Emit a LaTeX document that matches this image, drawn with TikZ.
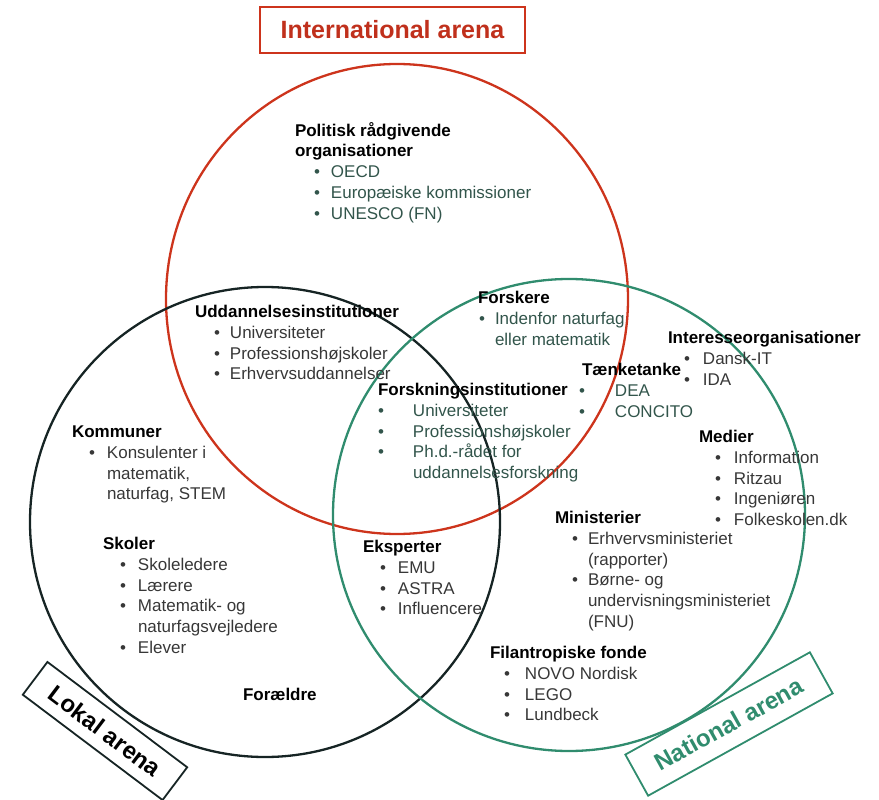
\documentclass[tikz,border=0pt]{standalone}
\usepackage{fontspec}
\setmainfont{Liberation Sans}
\definecolor{intred}{RGB}{205,52,28}
\definecolor{titlered}{RGB}{192,48,28}
\definecolor{natgreen}{RGB}{48,140,110}
\definecolor{lokblack}{RGB}{22,36,36}
\definecolor{itemgray}{RGB}{55,55,55}
\definecolor{itemteal}{RGB}{50,85,75}
\newcommand{\hd}[1]{\multicolumn{2}{@{}l@{}}{\color{black}\bfseries #1}}
\newcommand{\bu}[1]{\makebox[#1][l]{\textbullet}}
\tikzset{
  arena/.style={line width=2.3pt},
  blk/.style={anchor=base west, inner sep=0pt, outer sep=0pt, font=\fontsize{17}{20.8}\selectfont, text=itemgray},
  tealblk/.style={blk, text=itemteal},
  tagbox/.style={draw, line width=1.8pt, inner sep=0pt, font=\fontsize{24}{28}\selectfont\bfseries}
}
\begin{document}
\begin{tikzpicture}[x=1pt,y=-1pt]
\useasboundingbox (0,0) rectangle (879,800);
% circles
\draw[arena, intred] (397,299) ellipse[x radius=231pt, y radius=235pt];
\draw[arena, lokblack] (265,522) circle[radius=235pt];
\draw[arena, natgreen] (569,515) circle[radius=236pt];
% arena labels
\node[tagbox, draw=intred, text=titlered, minimum width=265pt, minimum height=46pt, font=\fontsize{25}{29}\selectfont\bfseries] (intl) at (392.5,30) {International arena};
\node[tagbox, draw=lokblack, text=black, minimum width=175pt, minimum height=41pt, rotate=-37] (lokal) at (105,731) {Lokal arena};
\node[tagbox, draw=natgreen, text=natgreen, minimum width=211pt, minimum height=47pt, rotate=29] (national) at (729,724) {National arena};
% text blocks
\node[tealblk] (pol) at (295,136) {\begin{tabular}[t]{@{\hspace{19pt}}l@{}l@{}}
\hd{Politisk rådgivende}\\
\hd{organisationer}\\
\bu{17pt} & OECD\\
\bu{17pt} & Europæiske kommissioner\\
\bu{17pt} & UNESCO (FN)
\end{tabular}};
\node[blk] (udd) at (195,317.5) {\begin{tabular}[t]{@{\hspace{19pt}}l@{}l@{}}
\hd{Uddannelsesinstitutioner}\\
\bu{16pt} & Universiteter\\
\bu{16pt} & Professionshøjskoler\\
\bu{16pt} & Erhvervsuddannelser
\end{tabular}};
\node[tealblk] (forskere) at (478,303.5) {\begin{tabular}[t]{@{\hspace{1pt}}l@{}l@{}}
\hd{Forskere}\\
\bu{16pt} & Indenfor naturfag\\
 & eller matematik
\end{tabular}};
\node[tealblk] (forskinst) at (378,395.5) {\begin{tabular}[t]{@{\hspace{0pt}}l@{}l@{}}
\hd{Forskningsinstitutioner}\\
\bu{35pt} & Universiteter\\
\bu{35pt} & Professionshøjskoler\\
\bu{35pt} & Ph.d.-rådet for\\
 & uddannelsesforskning
\end{tabular}};
\node[tealblk] (taenk) at (582,375.5) {\begin{tabular}[t]{@{\hspace{-3pt}}l@{}l@{}}
\hd{Tænketanke}\\
\bu{36pt} & DEA\\
\bu{36pt} & CONCITO
\end{tabular}};
\node[blk] (interesse) at (668,343.5) {\begin{tabular}[t]{@{\hspace{16pt}}l@{}l@{}}
\hd{Interesseorganisationer}\\
\bu{19pt} & Dansk-IT\\
\bu{19pt} & IDA
\end{tabular}};
\node[blk] (medier) at (699,442.5) {\begin{tabular}[t]{@{\hspace{16pt}}l@{}l@{}}
\hd{Medier}\\
\bu{19pt} & Information\\
\bu{19pt} & Ritzau\\
\bu{19pt} & Ingeniøren\\
\bu{19pt} & Folkeskolen.dk
\end{tabular}};
\node[blk] (kommuner) at (72,437.5) {\begin{tabular}[t]{@{\hspace{17pt}}l@{}l@{}}
\hd{Kommuner}\\
\bu{18pt} & Konsulenter i\\
 & matematik,\\
 & naturfag, STEM
\end{tabular}};
\node[blk] (skoler) at (103,549.5) {\begin{tabular}[t]{@{\hspace{17pt}}l@{}l@{}}
\hd{Skoler}\\
\bu{18pt} & Skoleledere\\
\bu{18pt} & Lærere\\
\bu{18pt} & Matematik- og\\
 & naturfagsvejledere\\
\bu{18pt} & Elever
\end{tabular}};
\node[blk, text=black, font=\fontsize{17}{20.8}\selectfont\bfseries] (foraeldre) at (243,700.5) {Forældre};
\node[blk] (eksperter) at (363,552.5) {\begin{tabular}[t]{@{\hspace{17pt}}l@{}l@{}}
\hd{Eksperter}\\
\bu{18pt} & EMU\\
\bu{18pt} & ASTRA\\
\bu{18pt} & Influencere
\end{tabular}};
\node[blk] (minister) at (555,523.5) {\begin{tabular}[t]{@{\hspace{17pt}}l@{}l@{}}
\hd{Ministerier}\\
\bu{16pt} & Erhvervsministeriet\\
 & (rapporter)\\
\bu{16pt} & Børne- og\\
 & undervisningsministeriet\\
 & (FNU)
\end{tabular}};
\node[blk] (fonde) at (490,658.5) {\begin{tabular}[t]{@{\hspace{14pt}}l@{}l@{}}
\hd{Filantropiske fonde}\\
\bu{21pt} & NOVO Nordisk\\
\bu{21pt} & LEGO\\
\bu{21pt} & Lundbeck
\end{tabular}};
\end{tikzpicture}
\end{document}
